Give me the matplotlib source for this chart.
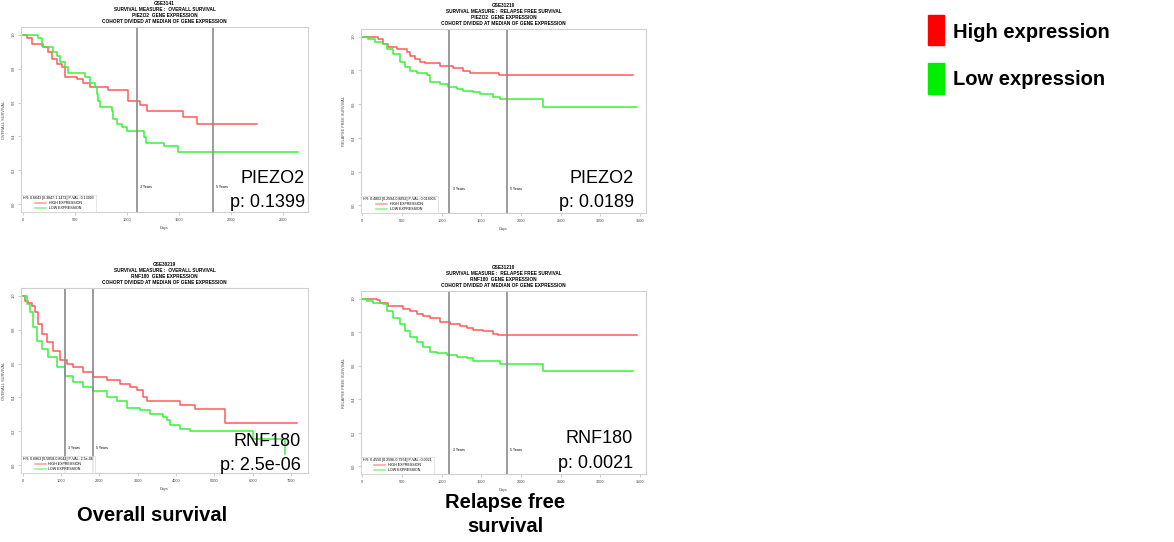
import matplotlib.pyplot as plt
from matplotlib.patches import Rectangle

W, H = 1174, 542

# ---- data (days, survival fraction) ----
p1_high_days = [0, 38, 86, 198, 246, 278, 326, 374, 406, 518, 582, 646, 822, 1013, 1125, 1189, 1541, 1669, 2244]
p1_high_surv = [1.0, 0.98, 0.945, 0.925, 0.895, 0.856, 0.827, 0.807, 0.752, 0.736, 0.718, 0.693, 0.673, 0.61, 0.583, 0.551, 0.512, 0.472, 0.472]
p1_low_days = [0, 150, 182, 198, 288, 326, 358, 406, 438, 598, 646, 694, 710, 726, 742, 854, 870, 902, 950, 998, 1163, 1179, 1355, 1495, 2640]
p1_low_surv = [1.0, 0.98, 0.935, 0.925, 0.895, 0.876, 0.836, 0.807, 0.772, 0.752, 0.718, 0.689, 0.65, 0.61, 0.575, 0.551, 0.502, 0.472, 0.453, 0.433, 0.394, 0.364, 0.344, 0.31, 0.31]

p2_high_days = [0, 202, 265, 328, 433, 559, 601, 664, 727, 790, 979, 1063, 1147, 1273, 1357, 1727, 3416]
p2_high_surv = [1.0, 0.984, 0.955, 0.936, 0.926, 0.906, 0.887, 0.867, 0.848, 0.842, 0.828, 0.823, 0.815, 0.799, 0.786, 0.770, 0.770]
p2_low_days = [0, 76, 160, 265, 307, 391, 475, 538, 601, 685, 811, 853, 979, 1084, 1189, 1273, 1399, 1483, 1651, 1735, 2282, 3458]
p2_low_surv = [1.0, 0.984, 0.969, 0.955, 0.926, 0.897, 0.848, 0.819, 0.799, 0.786, 0.770, 0.731, 0.721, 0.702, 0.692, 0.678, 0.669, 0.657, 0.643, 0.628, 0.585, 0.585]

p3_high_days = [0, 61, 148, 235, 322, 409, 496, 626, 800, 974, 1148, 1322, 1583, 1844, 2192, 2540, 2801, 2975, 3149, 3236, 4106, 4498, 5281, 7151]
p3_high_surv = [1.0, 0.971, 0.955, 0.941, 0.902, 0.833, 0.775, 0.725, 0.676, 0.622, 0.598, 0.578, 0.549, 0.520, 0.5, 0.480, 0.461, 0.445, 0.402, 0.382, 0.353, 0.333, 0.249, 0.249]
p3_low_days = [0, 104, 191, 278, 365, 496, 670, 887, 1105, 1322, 1583, 1844, 2192, 2453, 2714, 3062, 3323, 3671, 3758, 3845, 4106, 4367, 6020, 6847]
p3_low_surv = [1.0, 0.951, 0.902, 0.814, 0.735, 0.686, 0.637, 0.578, 0.529, 0.490, 0.461, 0.441, 0.402, 0.382, 0.339, 0.324, 0.304, 0.284, 0.265, 0.235, 0.216, 0.2, 0.157, 0.065]

p4_high_days = [0, 181, 223, 328, 517, 601, 685, 769, 853, 979, 1105, 1231, 1315, 1399, 1525, 1651, 1714, 3458]
p4_high_surv = [1.0, 0.994, 0.975, 0.955, 0.936, 0.926, 0.906, 0.897, 0.887, 0.858, 0.848, 0.838, 0.823, 0.813, 0.805, 0.789, 0.780, 0.780]
p4_low_days = [0, 55, 139, 265, 307, 391, 475, 538, 601, 685, 769, 853, 937, 1063, 1189, 1315, 1399, 1735, 2282, 3416]
p4_low_surv = [1.0, 0.984, 0.975, 0.965, 0.926, 0.887, 0.848, 0.809, 0.770, 0.741, 0.711, 0.682, 0.673, 0.663, 0.653, 0.643, 0.628, 0.608, 0.571, 0.571]

datasets = ['GSE3141', 'GSE31210', 'GSE30219', 'GSE31210']
measures = ['OVERALL SURVIVAL', 'RELAPSE FREE SURVIVAL', 'OVERALL SURVIVAL', 'RELAPSE FREE SURVIVAL']
genes = ['PIEZO2', 'PIEZO2', 'RNF180', 'RNF180']
pvals = ['p: 0.1399', 'p: 0.0189', 'p: 2.5e-06', 'p: 0.0021']
hr_text = ['HR: 0.6643 [0.3847-1.1472] P-VAL: 0.13993',
           'HR: 0.4803 [0.2594-0.8892] P-VAL: 0.018905',
           'HR: 0.6863 [0.5858-0.8042] P-VAL: 2.5e-06',
           'HR: 0.4550 [0.2596-0.7974] P-VAL: 0.0021']
xlims = [(-16, 2738), (-16, 3576), (-44, 7443), (-16, 3576)]
xticks = [range(0, 2501, 500), range(0, 3501, 500), range(0, 7001, 1000), range(0, 3501, 500)]
year_lines = [1095, 1825]

curves = [(p1_high_days, p1_high_surv, p1_low_days, p1_low_surv),
          (p2_high_days, p2_high_surv, p2_low_days, p2_low_surv),
          (p3_high_days, p3_high_surv, p3_low_days, p3_low_surv),
          (p4_high_days, p4_high_surv, p4_low_days, p4_low_surv)]

# axes frames in pixels: left, top, right, bottom
frames = [(21, 27, 308, 212), (361, 29, 646, 213), (21, 288, 308, 473), (361, 291, 646, 474)]
# right edge / baselines of the big overlay text
overlay = [(305, 183, 207), (634, 183, 207), (301, 446, 470), (633, 443, 468)]

RED = '#ff5a5a'
GREEN = '#3cf03c'

fig = plt.figure(figsize=(W / 100, H / 100), dpi=100)
plt.rcParams['font.family'] = ['Liberation Sans', 'DejaVu Sans']

for i in range(4):
    l, t, r, b = frames[i]
    ax = fig.add_axes([l / W, 1 - b / H, (r - l) / W, (b - t) / H])
    hd, hs, ld, ls = curves[i]
    ax.step(hd, hs, where='post', color=RED, lw=1.1, label='HIGH EXPRESSION')
    ax.step(ld, ls, where='post', color=GREEN, lw=1.1, label='LOW EXPRESSION')
    x0, x1 = xlims[i]
    for yl in year_lines:
        ax.axvline(yl, color='#8a8a8a', lw=1.2)
    ax.text(year_lines[0] + (x1 - x0) * 0.012, 0.1, '3 Years', fontsize=2.6, va='center')
    ax.text(year_lines[1] + (x1 - x0) * 0.012, 0.1, '5 Years', fontsize=2.6, va='center')

    ax.set_xlim(x0, x1)
    ax.set_ylim(-0.045, 1.045)
    ax.set_xticks(list(xticks[i]))
    ax.set_yticks([0, 0.2, 0.4, 0.6, 0.8, 1.0])
    ax.set_yticklabels(['0.0', '0.2', '0.4', '0.6', '0.8', '1.0'], rotation=90, va='center')
    ax.tick_params(labelsize=2.8, length=2, width=0.4, color='#aaaaaa', labelcolor='#444444', pad=2)
    for s in ax.spines.values():
        s.set_color('#d0d0d0')
        s.set_linewidth(0.8)
    ax.set_xlabel('Days', fontsize=2.8, color='#444444', labelpad=3)
    ax.set_ylabel(measures[i], fontsize=2.8, color='#444444', labelpad=4)
    ax.set_title(datasets[i] + '\nSURVIVAL MEASURE :  ' + measures[i] + '\n' + genes[i] +
                 '  GENE EXPRESSION\nCOHORT DIVIDED AT MEDIAN OF GENE EXPRESSION',
                 fontsize=3.4, fontweight='bold', linespacing=1.25, pad=3)
    leg = ax.legend(title=hr_text[i], loc='lower left', fontsize=2.6, title_fontsize=2.6,
                    frameon=True, fancybox=False, edgecolor='#d0d0d0', borderaxespad=0.1,
                    handlelength=3, borderpad=0.5, labelspacing=0.2)
    leg.get_frame().set_linewidth(0.5)
    for line in leg.get_lines():
        line.set_alpha(0.6)

    xr, y1, y2 = overlay[i]
    fig.text(xr / W, 1 - y1 / H, genes[i], ha='right', va='baseline', fontsize=13)
    fig.text(xr / W, 1 - y2 / H, pvals[i], ha='right', va='baseline', fontsize=13)

# column captions
fig.text(152 / W, 1 - 521 / H, 'Overall survival', ha='center', va='baseline',
         fontsize=14.5, fontweight='bold')
fig.text(505 / W, 1 - 508 / H, 'Relapse free', ha='center', va='baseline',
         fontsize=14.5, fontweight='bold')
fig.text(505 / W, 1 - 532 / H, 'survival', ha='center', va='baseline',
         fontsize=14.5, fontweight='bold')

# legend at the top right
fig.add_artist(Rectangle((928 / W, 1 - 45 / H), 16 / W, 30 / H, transform=fig.transFigure,
                         color='#ff0000'))
fig.add_artist(Rectangle((928 / W, 1 - 94 / H), 16 / W, 31 / H, transform=fig.transFigure,
                         color='#00ee00'))
fig.text(953 / W, 1 - 38 / H, 'High expression', va='baseline', fontsize=14.5, fontweight='bold')
fig.text(953 / W, 1 - 85 / H, 'Low expression', va='baseline', fontsize=14.5, fontweight='bold')

fig.savefig('out.png', dpi=100)
